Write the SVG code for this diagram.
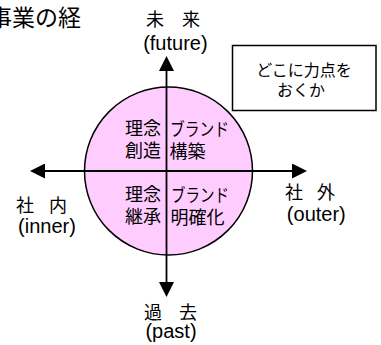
<svg xmlns="http://www.w3.org/2000/svg" width="381" height="345" viewBox="0 0 381 345">
<defs>
<style>
.jp{font-family:"Noto Sans CJK JP","Noto Sans",sans-serif;fill:#000}
.en{font-family:"Liberation Sans",Arial,sans-serif;font-size:20px;fill:#000;text-anchor:middle}
.ax{font-size:18px}
.q{font-size:18px}
.axis{stroke:#000;stroke-width:1.8;fill:none}
</style>
<marker id="ah" markerUnits="userSpaceOnUse" markerWidth="15" markerHeight="15" refX="0" refY="7.5" orient="auto-start-reverse" viewBox="0 0 15 15">
<path d="M0,0 L15,7.5 L0,15 z" fill="#000"/>
</marker>
</defs>
<rect width="381" height="345" fill="#fff"/>
<g id="title">
<text class="jp" x="-11" y="25.5" font-size="23">事業の経</text>
</g>
<g id="quadrant-circle">
<circle cx="168.5" cy="171" r="84" fill="#ffccff" stroke="#000" stroke-width="1.5"/>
</g>
<g id="connectors">
<line class="axis" x1="166.5" y1="71" x2="166.5" y2="282" marker-start="url(#ah)" marker-end="url(#ah)"/>
<line class="axis" x1="45" y1="171" x2="292" y2="171" marker-start="url(#ah)" marker-end="url(#ah)"/>
</g>
<g id="q-top-left">
<text class="jp q" x="161" y="135" text-anchor="end">理念</text>
<text class="jp q" x="161" y="157" text-anchor="end">創造</text>
</g>
<g id="q-top-right">
<text class="jp q" x="170" y="136" textLength="59" lengthAdjust="spacingAndGlyphs">ブランド</text>
<text class="jp q" x="169.5" y="158">構築</text>
</g>
<g id="q-bottom-left">
<text class="jp q" x="161" y="201" text-anchor="end">理念</text>
<text class="jp q" x="161" y="223" text-anchor="end">継承</text>
</g>
<g id="q-bottom-right">
<text class="jp q" x="171" y="202" textLength="58" lengthAdjust="spacingAndGlyphs">ブランド</text>
<text class="jp q" x="170.5" y="224">明確化</text>
</g>
<g id="label-future">
<text class="jp ax" y="26"><tspan x="146">未</tspan><tspan x="182">来</tspan></text>
<text class="en" x="175.4" y="50">(future)</text>
</g>
<g id="label-inner">
<text class="jp ax" y="212"><tspan x="16">社</tspan><tspan x="49">内</tspan></text>
<text class="en" x="47" y="233">(inner)</text>
</g>
<g id="label-outer">
<text class="jp ax" y="199"><tspan x="285">社</tspan><tspan x="317">外</tspan></text>
<text class="en" x="316.3" y="221">(outer)</text>
</g>
<g id="label-past">
<text class="jp ax" y="319"><tspan x="144">過</tspan><tspan x="179">去</tspan></text>
<text class="en" x="171" y="338">(past)</text>
</g>
<g id="focus-box">
<rect x="232.5" y="45.5" width="143.5" height="65" fill="#fff" stroke="#000" stroke-width="1.5"/>
<text class="jp" x="304" y="76" font-size="16" text-anchor="middle">どこに力点を</text>
<text class="jp" x="301" y="96" font-size="16" text-anchor="middle">おくか</text>
</g>
</svg>
